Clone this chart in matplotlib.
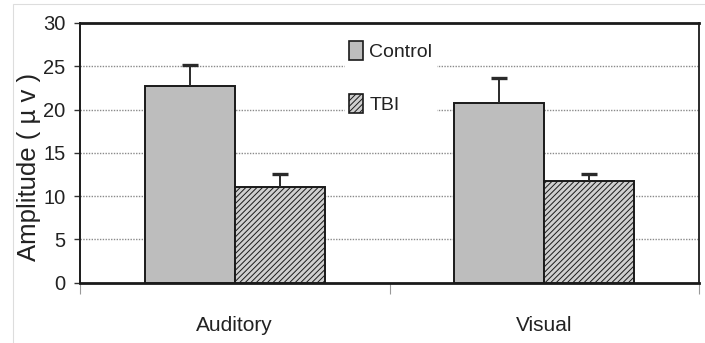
import matplotlib
matplotlib.use("Agg")
import matplotlib.pyplot as plt
from matplotlib.patches import Rectangle, Patch
import numpy as np

# Data
categories = ["Auditory", "Visual"]
series_names = ["Control", "TBI"]
control_mean = [22.7, 20.8]
control_err = [2.5, 2.85]
tbi_mean = [11.05, 11.7]
tbi_err = [1.55, 0.9]
y_ticks = [0, 5, 10, 15, 20, 25, 30]

FONT = ["Liberation Sans", "DejaVu Sans"]
TEXT = "#222222"
EDGE = "#1a1a1a"
HATCH = "//////"

plt.rcParams["font.family"] = FONT
plt.rcParams["hatch.linewidth"] = 0.7
plt.rcParams["hatch.color"] = "#4a4a4a"

fig = plt.figure(figsize=(7.05, 3.43), dpi=100)
W, H = 705, 343
ax = fig.add_axes([80 / W, 1 - 282.7 / H, (699 - 80) / W, (282.7 - 23) / H])

# light outer frame
fig.patches.append(Rectangle((13 / W, -0.1), 1.2, 1 - 4 / H + 0.1,
                             transform=fig.transFigure, fill=False,
                             edgecolor="#dddddd", linewidth=0.8, zorder=0))

centers = np.arange(len(categories)) + 0.5
bw = 0.29
x_ctrl = centers - bw / 2
x_tbi = centers + bw / 2

ax.bar(x_ctrl, control_mean, width=bw, color="#bdbdbd",
       edgecolor=EDGE, linewidth=1.4, zorder=3)
ax.bar(x_tbi, tbi_mean, width=bw, color="#cfcfcf",
       edgecolor=EDGE, linewidth=1.4, hatch=HATCH, zorder=3)

# upper-only error bars
for xs, means, errs in [(x_ctrl, control_mean, control_err), (x_tbi, tbi_mean, tbi_err)]:
    tops = np.array(means) + np.array(errs)
    ax.vlines(xs, means, tops, color="#2a2a2a", linewidth=1.4, zorder=4)
    ax.plot(xs, tops, linestyle="none", marker="_", markersize=12,
            markeredgewidth=2.4, color="#2a2a2a", zorder=4)

ax.set_xlim(0, len(categories))
ax.set_ylim(0, 30)

# y axis
ax.set_yticks(y_ticks)
ax.set_yticklabels([str(v) for v in y_ticks])
ax.tick_params(axis="y", direction="out", length=4, width=1.0, color="#333333",
               pad=6.5, labelsize=14.5, labelcolor=TEXT)
for v in y_ticks[1:-1]:
    ax.axhline(v, color="#8a8a8a", linewidth=1.0, linestyle=(0, (1, 1)), zorder=1)

# x axis: boundary ticks as majors, category names as minors
ax.set_xticks([0, 1, 2])
ax.set_xticklabels(["", "", ""])
ax.tick_params(axis="x", which="major", direction="out", length=8, width=0.8,
               color="#999999")
ax.set_xticks(centers, minor=True)
ax.set_xticklabels(categories, minor=True)
ax.tick_params(axis="x", which="minor", length=0, pad=24, labelsize=15,
               labelcolor=TEXT)

for side, lw in [("top", 2.0), ("bottom", 2.0), ("left", 1.4), ("right", 1.3)]:
    ax.spines[side].set_linewidth(lw)
    ax.spines[side].set_color(EDGE)

ax.set_ylabel("Amplitude ( µ v )", fontsize=18.5, color=TEXT)
ax.yaxis.set_label_coords((41 - 80) / 619, (282.7 - 167) / 259.7)

handles = [Patch(facecolor="#bdbdbd", edgecolor=EDGE, linewidth=1.2),
           Patch(facecolor="#cfcfcf", edgecolor=EDGE, linewidth=1.2, hatch=HATCH)]
leg = ax.legend(handles, series_names, loc="upper left",
                bbox_to_anchor=(345 / W, 1 - 37 / H), bbox_transform=fig.transFigure,
                frameon=True, fancybox=False, framealpha=1.0, edgecolor="white",
                facecolor="white", fontsize=14, labelspacing=1.7,
                handlelength=0.7, handleheight=1.15, handletextpad=0.35,
                borderpad=0.2, borderaxespad=0)
for t in leg.get_texts():
    t.set_color(TEXT)
leg.set_zorder(2)

fig.savefig("out.png", dpi=100, facecolor="white")
